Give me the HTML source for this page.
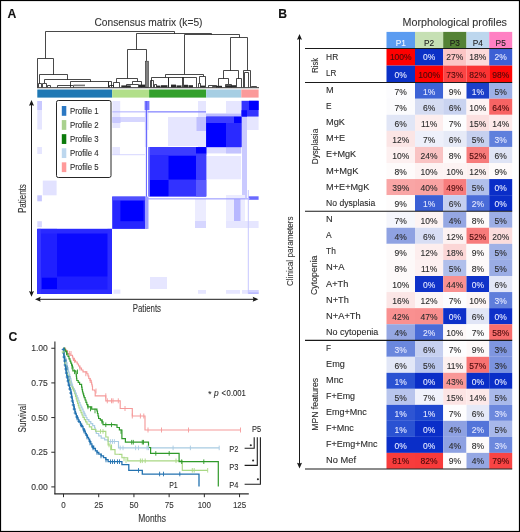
<!DOCTYPE html><html><head><meta charset="utf-8"><style>html,body{margin:0;padding:0;background:#fff;}body{width:520px;height:532px;overflow:hidden;}svg{display:block;font-family:"Liberation Sans", sans-serif;will-change:transform;}text{stroke:currentColor;stroke-width:0.1px;paint-order:stroke;}</style></head><body>
<svg width="520" height="532" viewBox="0 0 520 532">
<rect x="0" y="0" width="520" height="532" fill="#fff"/>
<text x="7.6" y="17.8" font-size="12.2" fill="#111" color="#111" font-weight="bold">A</text>
<text x="278.2" y="18" font-size="12.2" fill="#111" color="#111" font-weight="bold">B</text>
<text x="8.6" y="340.8" font-size="12.2" fill="#111" color="#111" font-weight="bold">C</text>
<text x="94.5" y="26.4" font-size="10.2" fill="#333" color="#333" textLength="108" lengthAdjust="spacingAndGlyphs">Consensus matrix (k=5)</text>
<path d="M45.5 58.2V31.5H174.5V33.7M136.5 49.3V33.5H211.5V34.5M184.5 74.2V34.5H239.5V37.4M230.5 70.6V37.5H247.5V70.4M37.5 87.4V58.5H53.5V74.7M39.5 83.5V74.5H67.5V79.6M44.5 83V79.5H90.5V81.9M70.5 87.4V81.5H108.5V87.4M57.5 87.4V85.5H73.5V87.4M38.5 87.4V83.5H41.5V87.4M42.5 87.4V83.5H46.5V87.4M47.5 87.4V85.5H50.5V87.4M109.5 87.4V85.5H113.5V87.4M127.5 78.4V49.5H146.5V60.9M116.5 82.5V78.5H137.5V81.4M113.5 87.4V82.5H119.5V87.4M132.5 83.9V81.5H141.5V87.4M126.5 87.4V84.5H138.5V87.4M108.5 87.4V81.5H111.5V87.4M165.5 77.3V74.5H203.5V76.2M151.5 87.4V77.5H168.5V87.4M168.5 87.4V77.5H196.5V87.4M182.5 87.4V77.5H183.5V87.4M199.5 83V76.5H205.5V87.4M198.5 87.4V83.5H200.5V87.4M150.5 87.4V80.5H153.5V87.4M154.5 87.4V84.5H156.5V87.4M223.5 78.6V70.5H238.5V78.6M218.5 87.4V78.5H228.5V84M236.5 87.4V78.5H241.5V87.4M225.5 87.4V84.5H231.5V87.4M208.5 87.4V85.5H216.5V87.4M212.5 87.4V86.5H221.5V87.4M243.5 87.4V70.5H250.5V87.4M244.5 87.4V72.5H248.5V87.4M251.5 87.4V86.5H256.5V87.4" fill="none" stroke="#1a1a1a" stroke-width="0.8" stroke-linejoin="miter"/>
<rect x="156.5" y="85.6" width="4" height="1.8" fill="#2a2a2a"/>
<rect x="161" y="85.2" width="6.5" height="2.2" fill="#2a2a2a"/>
<rect x="171" y="84.6" width="5" height="2.8" fill="#2a2a2a"/>
<rect x="176.5" y="85.4" width="5" height="2" fill="#2a2a2a"/>
<rect x="184" y="84.8" width="4" height="2.6" fill="#2a2a2a"/>
<rect x="188.5" y="85.2" width="4.5" height="2.2" fill="#2a2a2a"/>
<rect x="200.5" y="85.6" width="4.5" height="1.8" fill="#2a2a2a"/>
<rect x="216" y="85.8" width="6" height="1.6" fill="#2a2a2a"/>
<rect x="226" y="85.2" width="10" height="2.2" fill="#2a2a2a"/>
<rect x="145.3" y="61.2" width="3.1" height="26" fill="#808080" stroke="#333" stroke-width="0.6"/>
<rect x="121.3" y="85.4" width="9.5" height="2" fill="#2a2a2a"/>
<rect x="139.0" y="84.6" width="6" height="2.8" fill="#2a2a2a"/>
<rect x="73.5" y="84.6" width="11.5" height="1.6" fill="#777"/>
<rect x="37" y="87.2" width="222" height="1.0" fill="#333"/>
<rect x="37.3" y="89.5" width="74.9" height="8.1" fill="#1f78b4"/>
<rect x="112.2" y="89.5" width="36.9" height="8.1" fill="#b2df8a"/>
<rect x="149.1" y="89.5" width="57.1" height="8.1" fill="#33a02c"/>
<rect x="206.2" y="89.5" width="35.1" height="8.1" fill="#a6cee3"/>
<rect x="241.3" y="89.5" width="17.3" height="8.1" fill="#fb9a99"/>
<rect x="37.3" y="101" width="4.7" height="28.5" fill="#e6e6ff"/>
<rect x="37.3" y="101" width="4.7" height="9" fill="#c8c8ff"/>
<rect x="37.3" y="147" width="4.7" height="7" fill="#e6e6ff"/>
<rect x="42.8" y="180.6" width="13.8" height="14.7" fill="#e2e2ff"/>
<rect x="37.3" y="195.3" width="4.6" height="6" fill="#c8c8ff"/>
<rect x="37.3" y="221.2" width="4.6" height="6" fill="#d8d8ff"/>
<rect x="112.4" y="101" width="7.8" height="27" fill="#e6e6ff"/>
<rect x="112.4" y="117" width="32.6" height="5" fill="#d6d6ff"/>
<rect x="112.4" y="147" width="7.6" height="8" fill="#e6e6ff"/>
<rect x="144.6" y="101" width="4.8" height="9" fill="#7a7aff"/>
<rect x="144.8" y="110" width="3.7" height="20" fill="#d8d8ff"/>
<rect x="144.8" y="130" width="3.2" height="17" fill="#e6e6ff"/>
<rect x="112.4" y="117" width="8.2" height="6" fill="#c8c8ff"/>
<rect x="112.4" y="154.2" width="32.6" height="1" fill="#d6d6ff"/>
<rect x="168" y="117" width="37" height="29" fill="#e6e6ff"/>
<rect x="198" y="101" width="8" height="46" fill="#e6e6ff"/>
<rect x="226" y="101" width="15" height="12.5" fill="#e6e6ff"/>
<rect x="206" y="113.5" width="35.5" height="3.1" fill="#bcbcff"/>
<rect x="241.5" y="117" width="17.1" height="13" fill="#e6e6ff"/>
<rect x="242" y="116.6" width="5" height="81.4" fill="#cacaff"/>
<rect x="248.2" y="196.3" width="10.4" height="3.5" fill="#6a6aff"/>
<rect x="226" y="196.3" width="15" height="3.7" fill="#c0c0ff"/>
<rect x="206" y="147" width="35.5" height="6.4" fill="#dcdcff"/>
<rect x="226" y="147" width="15" height="6.4" fill="#c4c4ff"/>
<rect x="206" y="156" width="35" height="23.3" fill="#e8e8ff"/>
<rect x="195" y="199" width="11" height="29" fill="#ececff"/>
<rect x="195" y="221" width="11" height="7" fill="#d6d6ff"/>
<rect x="226" y="195" width="19" height="33" fill="#ececff"/>
<rect x="234" y="199" width="6.5" height="29" fill="#b8b8ff"/>
<rect x="226" y="221" width="32.6" height="7" fill="#e6e6ff"/>
<rect x="150" y="277" width="17" height="12" fill="#e6e6ff"/>
<rect x="113.5" y="289.5" width="6.9" height="4.3" fill="#e6e6ff"/>
<rect x="198" y="290" width="8" height="3.8" fill="#e6e6ff"/>
<rect x="226" y="290" width="14" height="3.8" fill="#e6e6ff"/>
<rect x="242" y="290" width="16.6" height="3.8" fill="#e6e6ff"/>
<rect x="248" y="290" width="10.6" height="3.8" fill="#d4d4ff"/>
<rect x="248" y="292.6" width="10.6" height="1" fill="#a8a8ff"/>
<rect x="112.4" y="111.3" width="35.6" height="1.1" fill="#b4b4ff"/>
<rect x="148" y="111.2" width="58" height="1.3" fill="#8888ff"/>
<rect x="196.5" y="117" width="9.5" height="14" fill="#c0c0ff"/>
<rect x="145.9" y="101" width="1" height="128" fill="#5e5eff"/>
<rect x="147" y="198.3" width="103" height="1.1" fill="#9a9aff"/>
<rect x="247.8" y="190" width="1" height="103.8" fill="#c8c8ff"/>
<rect x="241.5" y="100.8" width="17.1" height="15.8" fill="#3434ff"/>
<rect x="249" y="100.8" width="9.6" height="9.2" fill="#0000ff"/>
<rect x="241.5" y="110.2" width="5.5" height="6.4" fill="#0a0aff"/>
<rect x="206.2" y="116.6" width="35.3" height="30.5" fill="#2424ff"/>
<rect x="206.2" y="123" width="19.8" height="24.1" fill="#0000ff"/>
<rect x="206.2" y="116.6" width="27.8" height="6.4" fill="#3e3eff"/>
<rect x="234" y="116.6" width="7.5" height="6.4" fill="#0000ff"/>
<rect x="226" y="123" width="15.5" height="24.1" fill="#2a2aff"/>
<rect x="148.5" y="147.1" width="57.7" height="49.3" fill="#2a2aff"/>
<rect x="168.5" y="179.5" width="27.5" height="16.9" fill="#3232ff"/>
<rect x="168.5" y="156" width="27.5" height="23.5" fill="#0000ff"/>
<rect x="150" y="180" width="18.5" height="16.4" fill="#0000ff"/>
<rect x="150" y="147.1" width="56.2" height="7.9" fill="#3c3cff"/>
<rect x="196" y="147.1" width="10.2" height="49.3" fill="#3c3cff"/>
<rect x="148.5" y="147.1" width="1.5" height="49.3" fill="#6a6aff"/>
<rect x="196" y="147.1" width="10.2" height="6.4" fill="#0000ff"/>
<rect x="196" y="180" width="10.2" height="16.4" fill="#5a5aff"/>
<rect x="112.2" y="196.6" width="33.2" height="32.3" fill="#2626ff"/>
<rect x="120.4" y="200.4" width="23.1" height="20.8" fill="#0000ff"/>
<rect x="112.2" y="196.6" width="33.2" height="3.8" fill="#5050ff"/>
<rect x="145.4" y="196.6" width="3.1" height="32.3" fill="#a0a0ff"/>
<rect x="37.3" y="228.9" width="74.6" height="64.9" fill="#0a0aff"/>
<rect x="37.3" y="228.9" width="19.7" height="64.9" fill="#2020ff"/>
<rect x="57" y="276.5" width="54.9" height="12.7" fill="#1e1eff"/>
<rect x="41.9" y="277.7" width="15.1" height="11.5" fill="#0000ff"/>
<rect x="37.3" y="289.2" width="74.6" height="4.6" fill="#2c2cff"/>
<rect x="37.3" y="228.9" width="74.6" height="4.6" fill="#2a2aff"/>
<rect x="107.5" y="228.9" width="4.4" height="64.9" fill="#2c2cff"/>
<rect x="37.3" y="228.9" width="3.7" height="64.9" fill="#3535ff"/>
<rect x="56.5" y="100.5" width="54.5" height="77" rx="1.8" fill="#fff" stroke="#262626" stroke-width="1"/>
<rect x="61.8" y="106" width="4.5" height="9.8" fill="#2b78c3"/>
<text x="70" y="114.1" font-size="8.7" fill="#2a2a2a" color="#2a2a2a" textLength="28.7" lengthAdjust="spacingAndGlyphs">Profile 1</text>
<rect x="61.8" y="120.08" width="4.5" height="9.8" fill="#a9d18e"/>
<text x="70" y="128.18" font-size="8.7" fill="#2a2a2a" color="#2a2a2a" textLength="28.7" lengthAdjust="spacingAndGlyphs">Profile 2</text>
<rect x="61.8" y="134.16" width="4.5" height="9.8" fill="#0b7a0b"/>
<text x="70" y="142.26" font-size="8.7" fill="#2a2a2a" color="#2a2a2a" textLength="28.7" lengthAdjust="spacingAndGlyphs">Profile 3</text>
<rect x="61.8" y="148.24" width="4.5" height="9.8" fill="#bdd7ee"/>
<text x="70" y="156.34" font-size="8.7" fill="#2a2a2a" color="#2a2a2a" textLength="28.7" lengthAdjust="spacingAndGlyphs">Profile 4</text>
<rect x="61.8" y="162.32" width="4.5" height="9.8" fill="#ff9a9a"/>
<text x="70" y="170.42" font-size="8.7" fill="#2a2a2a" color="#2a2a2a" textLength="28.7" lengthAdjust="spacingAndGlyphs">Profile 5</text>
<line x1="31.5" y1="103" x2="31.5" y2="294" stroke="#1a1a1a" stroke-width="1"/>
<path d="M31.5 100 L34 105.7 L31.5 104.9 L29 105.7 Z" fill="#1a1a1a"/>
<path d="M31.5 296.8 L29 291.1 L31.5 291.9 L34 291.1 Z" fill="#1a1a1a"/>
<line x1="38" y1="299.3" x2="255" y2="299.3" stroke="#1a1a1a" stroke-width="1"/>
<path d="M35 299.3 L40.7 296.8 L39.9 299.3 L40.7 301.8 Z" fill="#1a1a1a"/>
<path d="M258.4 299.3 L252.7 301.8 L253.5 299.3 L252.7 296.8 Z" fill="#1a1a1a"/>
<text x="132.7" y="311.9" font-size="10" fill="#333" color="#333" textLength="28.3" lengthAdjust="spacingAndGlyphs">Patients</text>
<text x="26.3" y="213" font-size="10" fill="#333" color="#333" textLength="28.8" lengthAdjust="spacingAndGlyphs" transform="rotate(-90 26.3 213)">Patients</text>
<text x="402.5" y="26.2" font-size="10.3" fill="#333" color="#333" textLength="104.5" lengthAdjust="spacingAndGlyphs">Morphological profiles</text>
<rect x="386.5" y="31.9" width="28.5" height="16.6" fill="#5b9cf1"/>
<text x="400.75" y="46" font-size="8.3" fill="#f4f8ff" color="#f4f8ff" text-anchor="middle">P1</text>
<rect x="415" y="31.9" width="28.2" height="16.6" fill="#c6e0b4"/>
<text x="429.1" y="46" font-size="8.3" fill="#222" color="#222" text-anchor="middle">P2</text>
<rect x="443.2" y="31.9" width="23.3" height="16.6" fill="#548235"/>
<text x="454.85" y="46" font-size="8.3" fill="#1a1a1a" color="#1a1a1a" text-anchor="middle">P3</text>
<rect x="466.5" y="31.9" width="22.7" height="16.6" fill="#bdd7ee"/>
<text x="477.85" y="46" font-size="8.3" fill="#222" color="#222" text-anchor="middle">P4</text>
<rect x="489.2" y="31.9" width="23" height="16.6" fill="#ff80c3"/>
<text x="500.7" y="46" font-size="8.3" fill="#222" color="#222" text-anchor="middle">P5</text>
<rect x="386.5" y="49" width="28.5" height="16.6" fill="#ff0000"/>
<rect x="415" y="49" width="28.2" height="16.6" fill="#0b30c6"/>
<rect x="443.2" y="49" width="23.3" height="16.6" fill="#fbc5c5"/>
<rect x="466.5" y="49" width="22.7" height="16.6" fill="#fddada"/>
<rect x="489.2" y="49" width="23" height="16.6" fill="#3d60d4"/>
<rect x="386.5" y="65.6" width="28.5" height="16.6" fill="#0b30c6"/>
<rect x="415" y="65.6" width="28.2" height="16.6" fill="#ff0000"/>
<rect x="443.2" y="65.6" width="23.3" height="16.6" fill="#fa4545"/>
<rect x="466.5" y="65.6" width="22.7" height="16.6" fill="#fb3333"/>
<rect x="489.2" y="65.6" width="23" height="16.6" fill="#fe0808"/>
<rect x="386.5" y="82.7" width="28.5" height="16.06" fill="#fcfcfe"/>
<rect x="415" y="82.7" width="28.2" height="16.06" fill="#3d63d6"/>
<rect x="443.2" y="82.7" width="23.3" height="16.06" fill="#fefafa"/>
<rect x="466.5" y="82.7" width="22.7" height="16.06" fill="#1a3fc9"/>
<rect x="489.2" y="82.7" width="23" height="16.06" fill="#9eb0e6"/>
<rect x="386.5" y="98.76" width="28.5" height="16.06" fill="#fbfbfd"/>
<rect x="415" y="98.76" width="28.2" height="16.06" fill="#d5dcf2"/>
<rect x="443.2" y="98.76" width="23.3" height="16.06" fill="#c9d3f0"/>
<rect x="466.5" y="98.76" width="22.7" height="16.06" fill="#fef4f4"/>
<rect x="489.2" y="98.76" width="23" height="16.06" fill="#f86464"/>
<rect x="386.5" y="114.83" width="28.5" height="16.06" fill="#e1e6f6"/>
<rect x="415" y="114.83" width="28.2" height="16.06" fill="#fdeeee"/>
<rect x="443.2" y="114.83" width="23.3" height="16.06" fill="#fdfdfe"/>
<rect x="466.5" y="114.83" width="22.7" height="16.06" fill="#fbe0e0"/>
<rect x="489.2" y="114.83" width="23" height="16.06" fill="#fde9e9"/>
<rect x="386.5" y="130.89" width="28.5" height="16.06" fill="#fbe5e5"/>
<rect x="415" y="130.89" width="28.2" height="16.06" fill="#eef0fa"/>
<rect x="443.2" y="130.89" width="23.3" height="16.06" fill="#e6eaf7"/>
<rect x="466.5" y="130.89" width="22.7" height="16.06" fill="#c6d0ef"/>
<rect x="489.2" y="130.89" width="23" height="16.06" fill="#5f7fdc"/>
<rect x="386.5" y="146.95" width="28.5" height="16.06" fill="#fdf0f0"/>
<rect x="415" y="146.95" width="28.2" height="16.06" fill="#f9c3c3"/>
<rect x="443.2" y="146.95" width="23.3" height="16.06" fill="#fefafa"/>
<rect x="466.5" y="146.95" width="22.7" height="16.06" fill="#f77b7b"/>
<rect x="489.2" y="146.95" width="23" height="16.06" fill="#dfe4f5"/>
<rect x="386.5" y="163.01" width="28.5" height="16.06" fill="#fefbfb"/>
<rect x="415" y="163.01" width="28.2" height="16.06" fill="#fdf3f3"/>
<rect x="443.2" y="163.01" width="23.3" height="16.06" fill="#fdf3f3"/>
<rect x="466.5" y="163.01" width="22.7" height="16.06" fill="#fdf0f0"/>
<rect x="489.2" y="163.01" width="23" height="16.06" fill="#fefafa"/>
<rect x="386.5" y="179.07" width="28.5" height="16.06" fill="#f9a5a5"/>
<rect x="415" y="179.07" width="28.2" height="16.06" fill="#f9a2a2"/>
<rect x="443.2" y="179.07" width="23.3" height="16.06" fill="#f77c7c"/>
<rect x="466.5" y="179.07" width="22.7" height="16.06" fill="#b0bfeb"/>
<rect x="489.2" y="179.07" width="23" height="16.06" fill="#0a2ec8"/>
<rect x="386.5" y="195.14" width="28.5" height="16.06" fill="#fefcfc"/>
<rect x="415" y="195.14" width="28.2" height="16.06" fill="#3b5fd5"/>
<rect x="443.2" y="195.14" width="23.3" height="16.06" fill="#c5cff0"/>
<rect x="466.5" y="195.14" width="22.7" height="16.06" fill="#4a6cd8"/>
<rect x="489.2" y="195.14" width="23" height="16.06" fill="#0a2ec8"/>
<rect x="386.5" y="211.7" width="28.5" height="16.07" fill="#f5f6fc"/>
<rect x="415" y="211.7" width="28.2" height="16.07" fill="#fdf3f3"/>
<rect x="443.2" y="211.7" width="23.3" height="16.07" fill="#95a7e3"/>
<rect x="466.5" y="211.7" width="22.7" height="16.07" fill="#fdfafa"/>
<rect x="489.2" y="211.7" width="23" height="16.07" fill="#9daee5"/>
<rect x="386.5" y="227.77" width="28.5" height="16.08" fill="#8fa2e2"/>
<rect x="415" y="227.77" width="28.2" height="16.08" fill="#d8def4"/>
<rect x="443.2" y="227.77" width="23.3" height="16.08" fill="#fdf2f2"/>
<rect x="466.5" y="227.77" width="22.7" height="16.08" fill="#f77b7b"/>
<rect x="489.2" y="227.77" width="23" height="16.08" fill="#fbdcdc"/>
<rect x="386.5" y="243.85" width="28.5" height="16.08" fill="#fdfafa"/>
<rect x="415" y="243.85" width="28.2" height="16.08" fill="#fdeeee"/>
<rect x="443.2" y="243.85" width="23.3" height="16.08" fill="#fbd6d6"/>
<rect x="466.5" y="243.85" width="22.7" height="16.08" fill="#fdfafa"/>
<rect x="489.2" y="243.85" width="23" height="16.08" fill="#a0b1e6"/>
<rect x="386.5" y="259.93" width="28.5" height="16.07" fill="#fdf9f9"/>
<rect x="415" y="259.93" width="28.2" height="16.07" fill="#fdf1f1"/>
<rect x="443.2" y="259.93" width="23.3" height="16.07" fill="#b0bfeb"/>
<rect x="466.5" y="259.93" width="22.7" height="16.07" fill="#fdf9f9"/>
<rect x="489.2" y="259.93" width="23" height="16.07" fill="#9aace5"/>
<rect x="386.5" y="276" width="28.5" height="16.07" fill="#fdf9f9"/>
<rect x="415" y="276" width="28.2" height="16.07" fill="#0f32c9"/>
<rect x="443.2" y="276" width="23.3" height="16.07" fill="#f89191"/>
<rect x="466.5" y="276" width="22.7" height="16.07" fill="#0f32c9"/>
<rect x="489.2" y="276" width="23" height="16.07" fill="#e3e7f7"/>
<rect x="386.5" y="292.07" width="28.5" height="16.07" fill="#fbe6e6"/>
<rect x="415" y="292.07" width="28.2" height="16.07" fill="#fdf6f6"/>
<rect x="443.2" y="292.07" width="23.3" height="16.07" fill="#fcfcfe"/>
<rect x="466.5" y="292.07" width="22.7" height="16.07" fill="#fdf6f6"/>
<rect x="489.2" y="292.07" width="23" height="16.07" fill="#5f7edb"/>
<rect x="386.5" y="308.15" width="28.5" height="16.08" fill="#f99090"/>
<rect x="415" y="308.15" width="28.2" height="16.08" fill="#f88e8e"/>
<rect x="443.2" y="308.15" width="23.3" height="16.08" fill="#0d30c9"/>
<rect x="466.5" y="308.15" width="22.7" height="16.08" fill="#e0e5f6"/>
<rect x="489.2" y="308.15" width="23" height="16.08" fill="#0d30c9"/>
<rect x="386.5" y="324.23" width="28.5" height="16.07" fill="#95a7e3"/>
<rect x="415" y="324.23" width="28.2" height="16.07" fill="#4a6bd7"/>
<rect x="443.2" y="324.23" width="23.3" height="16.07" fill="#fdf8f8"/>
<rect x="466.5" y="324.23" width="22.7" height="16.07" fill="#fcfcfd"/>
<rect x="489.2" y="324.23" width="23" height="16.07" fill="#f76d6d"/>
<rect x="386.5" y="340.8" width="28.5" height="16.01" fill="#6a87dd"/>
<rect x="415" y="340.8" width="28.2" height="16.01" fill="#c6d0f0"/>
<rect x="443.2" y="340.8" width="23.3" height="16.01" fill="#fdfdfe"/>
<rect x="466.5" y="340.8" width="22.7" height="16.01" fill="#fdf8f8"/>
<rect x="489.2" y="340.8" width="23" height="16.01" fill="#7f96e0"/>
<rect x="386.5" y="356.81" width="28.5" height="16.01" fill="#e2e7f7"/>
<rect x="415" y="356.81" width="28.2" height="16.01" fill="#b8c5ed"/>
<rect x="443.2" y="356.81" width="23.3" height="16.01" fill="#fdf0f0"/>
<rect x="466.5" y="356.81" width="22.7" height="16.01" fill="#f77272"/>
<rect x="489.2" y="356.81" width="23" height="16.01" fill="#7b93df"/>
<rect x="386.5" y="372.82" width="28.5" height="16.01" fill="#2a52d2"/>
<rect x="415" y="372.82" width="28.2" height="16.01" fill="#0a2ec8"/>
<rect x="443.2" y="372.82" width="23.3" height="16.01" fill="#f99898"/>
<rect x="466.5" y="372.82" width="22.7" height="16.01" fill="#0a2ec8"/>
<rect x="489.2" y="372.82" width="23" height="16.01" fill="#0a2ec8"/>
<rect x="386.5" y="388.84" width="28.5" height="16.01" fill="#b8c5ed"/>
<rect x="415" y="388.84" width="28.2" height="16.01" fill="#f0f2fb"/>
<rect x="443.2" y="388.84" width="23.3" height="16.01" fill="#fce4e4"/>
<rect x="466.5" y="388.84" width="22.7" height="16.01" fill="#fde9e9"/>
<rect x="489.2" y="388.84" width="23" height="16.01" fill="#a9b9ea"/>
<rect x="386.5" y="404.85" width="28.5" height="16.01" fill="#2e55d3"/>
<rect x="415" y="404.85" width="28.2" height="16.01" fill="#1e48d0"/>
<rect x="443.2" y="404.85" width="23.3" height="16.01" fill="#fdfdfe"/>
<rect x="466.5" y="404.85" width="22.7" height="16.01" fill="#e5e9f7"/>
<rect x="489.2" y="404.85" width="23" height="16.01" fill="#6c88dd"/>
<rect x="386.5" y="420.86" width="28.5" height="16.01" fill="#2a52d2"/>
<rect x="415" y="420.86" width="28.2" height="16.01" fill="#0a2ec8"/>
<rect x="443.2" y="420.86" width="23.3" height="16.01" fill="#8ea1e2"/>
<rect x="466.5" y="420.86" width="22.7" height="16.01" fill="#5374d9"/>
<rect x="489.2" y="420.86" width="23" height="16.01" fill="#a8b8ea"/>
<rect x="386.5" y="436.88" width="28.5" height="16.01" fill="#0a2ec8"/>
<rect x="415" y="436.88" width="28.2" height="16.01" fill="#0a2ec8"/>
<rect x="443.2" y="436.88" width="23.3" height="16.01" fill="#8ea1e2"/>
<rect x="466.5" y="436.88" width="22.7" height="16.01" fill="#fdfbfb"/>
<rect x="489.2" y="436.88" width="23" height="16.01" fill="#6c88dd"/>
<rect x="386.5" y="452.89" width="28.5" height="16.01" fill="#f83c3c"/>
<rect x="415" y="452.89" width="28.2" height="16.01" fill="#f83a3a"/>
<rect x="443.2" y="452.89" width="23.3" height="16.01" fill="#fefcfc"/>
<rect x="466.5" y="452.89" width="22.7" height="16.01" fill="#95a7e3"/>
<rect x="489.2" y="452.89" width="23" height="16.01" fill="#f84444"/>
<text x="326.1" y="59.8" font-size="8.5" fill="#2a2a2a" color="#2a2a2a" textLength="12.1" lengthAdjust="spacingAndGlyphs">HR</text>
<text x="400.75" y="59.8" font-size="8.5" fill="#4a0a0a" color="#4a0a0a" text-anchor="middle">100%</text>
<text x="429.1" y="59.8" font-size="8.5" fill="#e4e8ff" color="#e4e8ff" text-anchor="middle">0%</text>
<text x="454.85" y="59.8" font-size="8.5" fill="#2a2a2a" color="#2a2a2a" text-anchor="middle">27%</text>
<text x="477.85" y="59.8" font-size="8.5" fill="#2a2a2a" color="#2a2a2a" text-anchor="middle">18%</text>
<text x="500.7" y="59.8" font-size="8.5" fill="#e4e8ff" color="#e4e8ff" text-anchor="middle">2%</text>
<text x="326.1" y="76.4" font-size="8.5" fill="#2a2a2a" color="#2a2a2a" textLength="10.33" lengthAdjust="spacingAndGlyphs">LR</text>
<text x="400.75" y="78.3" font-size="8.5" fill="#e4e8ff" color="#e4e8ff" text-anchor="middle">0%</text>
<text x="429.1" y="78.3" font-size="8.5" fill="#4a0a0a" color="#4a0a0a" text-anchor="middle">100%</text>
<text x="454.85" y="78.3" font-size="8.5" fill="#4a0a0a" color="#4a0a0a" text-anchor="middle">73%</text>
<text x="477.85" y="78.3" font-size="8.5" fill="#4a0a0a" color="#4a0a0a" text-anchor="middle">82%</text>
<text x="500.7" y="78.3" font-size="8.5" fill="#4a0a0a" color="#4a0a0a" text-anchor="middle">98%</text>
<text x="326.1" y="93.23" font-size="8.5" fill="#2a2a2a" color="#2a2a2a" textLength="7.65" lengthAdjust="spacingAndGlyphs">M</text>
<text x="400.75" y="94.73" font-size="8.5" fill="#2a2a2a" color="#2a2a2a" text-anchor="middle">7%</text>
<text x="429.1" y="94.73" font-size="8.5" fill="#e4e8ff" color="#e4e8ff" text-anchor="middle">1%</text>
<text x="454.85" y="94.73" font-size="8.5" fill="#2a2a2a" color="#2a2a2a" text-anchor="middle">9%</text>
<text x="477.85" y="94.73" font-size="8.5" fill="#e4e8ff" color="#e4e8ff" text-anchor="middle">1%</text>
<text x="500.7" y="94.73" font-size="8.5" fill="#2a2a2a" color="#2a2a2a" text-anchor="middle">5%</text>
<text x="326.1" y="109.29" font-size="8.5" fill="#2a2a2a" color="#2a2a2a" textLength="5.56" lengthAdjust="spacingAndGlyphs">E</text>
<text x="400.75" y="110.79" font-size="8.5" fill="#2a2a2a" color="#2a2a2a" text-anchor="middle">7%</text>
<text x="429.1" y="110.79" font-size="8.5" fill="#2a2a2a" color="#2a2a2a" text-anchor="middle">6%</text>
<text x="454.85" y="110.79" font-size="8.5" fill="#2a2a2a" color="#2a2a2a" text-anchor="middle">6%</text>
<text x="477.85" y="110.79" font-size="8.5" fill="#2a2a2a" color="#2a2a2a" text-anchor="middle">10%</text>
<text x="500.7" y="110.79" font-size="8.5" fill="#4a0a0a" color="#4a0a0a" text-anchor="middle">64%</text>
<text x="326.1" y="125.36" font-size="8.5" fill="#2a2a2a" color="#2a2a2a" textLength="18.88" lengthAdjust="spacingAndGlyphs">MgK</text>
<text x="400.75" y="126.86" font-size="8.5" fill="#2a2a2a" color="#2a2a2a" text-anchor="middle">6%</text>
<text x="429.1" y="126.86" font-size="8.5" fill="#2a2a2a" color="#2a2a2a" text-anchor="middle">11%</text>
<text x="454.85" y="126.86" font-size="8.5" fill="#2a2a2a" color="#2a2a2a" text-anchor="middle">7%</text>
<text x="477.85" y="126.86" font-size="8.5" fill="#2a2a2a" color="#2a2a2a" text-anchor="middle">15%</text>
<text x="500.7" y="126.86" font-size="8.5" fill="#2a2a2a" color="#2a2a2a" text-anchor="middle">14%</text>
<text x="326.1" y="141.42" font-size="8.5" fill="#2a2a2a" color="#2a2a2a" textLength="19.16" lengthAdjust="spacingAndGlyphs">M+E</text>
<text x="400.75" y="142.92" font-size="8.5" fill="#2a2a2a" color="#2a2a2a" text-anchor="middle">12%</text>
<text x="429.1" y="142.92" font-size="8.5" fill="#2a2a2a" color="#2a2a2a" text-anchor="middle">7%</text>
<text x="454.85" y="142.92" font-size="8.5" fill="#2a2a2a" color="#2a2a2a" text-anchor="middle">6%</text>
<text x="477.85" y="142.92" font-size="8.5" fill="#2a2a2a" color="#2a2a2a" text-anchor="middle">5%</text>
<text x="500.7" y="142.92" font-size="8.5" fill="#e4e8ff" color="#e4e8ff" text-anchor="middle">3%</text>
<text x="326.1" y="157.48" font-size="8.5" fill="#2a2a2a" color="#2a2a2a" textLength="30.08" lengthAdjust="spacingAndGlyphs">E+MgK</text>
<text x="400.75" y="158.98" font-size="8.5" fill="#2a2a2a" color="#2a2a2a" text-anchor="middle">10%</text>
<text x="429.1" y="158.98" font-size="8.5" fill="#2a2a2a" color="#2a2a2a" text-anchor="middle">24%</text>
<text x="454.85" y="158.98" font-size="8.5" fill="#2a2a2a" color="#2a2a2a" text-anchor="middle">8%</text>
<text x="477.85" y="158.98" font-size="8.5" fill="#4a0a0a" color="#4a0a0a" text-anchor="middle">52%</text>
<text x="500.7" y="158.98" font-size="8.5" fill="#2a2a2a" color="#2a2a2a" text-anchor="middle">6%</text>
<text x="326.1" y="173.54" font-size="8.5" fill="#2a2a2a" color="#2a2a2a" textLength="32.38" lengthAdjust="spacingAndGlyphs">M+MgK</text>
<text x="400.75" y="175.04" font-size="8.5" fill="#2a2a2a" color="#2a2a2a" text-anchor="middle">8%</text>
<text x="429.1" y="175.04" font-size="8.5" fill="#2a2a2a" color="#2a2a2a" text-anchor="middle">10%</text>
<text x="454.85" y="175.04" font-size="8.5" fill="#2a2a2a" color="#2a2a2a" text-anchor="middle">10%</text>
<text x="477.85" y="175.04" font-size="8.5" fill="#2a2a2a" color="#2a2a2a" text-anchor="middle">12%</text>
<text x="500.7" y="175.04" font-size="8.5" fill="#2a2a2a" color="#2a2a2a" text-anchor="middle">9%</text>
<text x="326.1" y="189.61" font-size="8.5" fill="#2a2a2a" color="#2a2a2a" textLength="43.17" lengthAdjust="spacingAndGlyphs">M+E+MgK</text>
<text x="400.75" y="191.11" font-size="8.5" fill="#2a2a2a" color="#2a2a2a" text-anchor="middle">39%</text>
<text x="429.1" y="191.11" font-size="8.5" fill="#2a2a2a" color="#2a2a2a" text-anchor="middle">40%</text>
<text x="454.85" y="191.11" font-size="8.5" fill="#4a0a0a" color="#4a0a0a" text-anchor="middle">49%</text>
<text x="477.85" y="191.11" font-size="8.5" fill="#2a2a2a" color="#2a2a2a" text-anchor="middle">5%</text>
<text x="500.7" y="191.11" font-size="8.5" fill="#e4e8ff" color="#e4e8ff" text-anchor="middle">0%</text>
<text x="326.1" y="205.67" font-size="8.5" fill="#2a2a2a" color="#2a2a2a" textLength="49.2" lengthAdjust="spacingAndGlyphs">No dysplasia</text>
<text x="400.75" y="207.17" font-size="8.5" fill="#2a2a2a" color="#2a2a2a" text-anchor="middle">9%</text>
<text x="429.1" y="207.17" font-size="8.5" fill="#e4e8ff" color="#e4e8ff" text-anchor="middle">1%</text>
<text x="454.85" y="207.17" font-size="8.5" fill="#2a2a2a" color="#2a2a2a" text-anchor="middle">6%</text>
<text x="477.85" y="207.17" font-size="8.5" fill="#e4e8ff" color="#e4e8ff" text-anchor="middle">2%</text>
<text x="500.7" y="207.17" font-size="8.5" fill="#e4e8ff" color="#e4e8ff" text-anchor="middle">0%</text>
<text x="326.1" y="222.24" font-size="8.5" fill="#2a2a2a" color="#2a2a2a" textLength="6.63" lengthAdjust="spacingAndGlyphs">N</text>
<text x="400.75" y="223.74" font-size="8.5" fill="#2a2a2a" color="#2a2a2a" text-anchor="middle">7%</text>
<text x="429.1" y="223.74" font-size="8.5" fill="#2a2a2a" color="#2a2a2a" text-anchor="middle">10%</text>
<text x="454.85" y="223.74" font-size="8.5" fill="#2a2a2a" color="#2a2a2a" text-anchor="middle">4%</text>
<text x="477.85" y="223.74" font-size="8.5" fill="#2a2a2a" color="#2a2a2a" text-anchor="middle">8%</text>
<text x="500.7" y="223.74" font-size="8.5" fill="#2a2a2a" color="#2a2a2a" text-anchor="middle">5%</text>
<text x="326.1" y="238.31" font-size="8.5" fill="#2a2a2a" color="#2a2a2a" textLength="5.65" lengthAdjust="spacingAndGlyphs">A</text>
<text x="400.75" y="239.81" font-size="8.5" fill="#2a2a2a" color="#2a2a2a" text-anchor="middle">4%</text>
<text x="429.1" y="239.81" font-size="8.5" fill="#2a2a2a" color="#2a2a2a" text-anchor="middle">6%</text>
<text x="454.85" y="239.81" font-size="8.5" fill="#2a2a2a" color="#2a2a2a" text-anchor="middle">12%</text>
<text x="477.85" y="239.81" font-size="8.5" fill="#4a0a0a" color="#4a0a0a" text-anchor="middle">52%</text>
<text x="500.7" y="239.81" font-size="8.5" fill="#2a2a2a" color="#2a2a2a" text-anchor="middle">20%</text>
<text x="326.1" y="254.39" font-size="8.5" fill="#2a2a2a" color="#2a2a2a" textLength="9.73" lengthAdjust="spacingAndGlyphs">Th</text>
<text x="400.75" y="255.89" font-size="8.5" fill="#2a2a2a" color="#2a2a2a" text-anchor="middle">9%</text>
<text x="429.1" y="255.89" font-size="8.5" fill="#2a2a2a" color="#2a2a2a" text-anchor="middle">12%</text>
<text x="454.85" y="255.89" font-size="8.5" fill="#2a2a2a" color="#2a2a2a" text-anchor="middle">18%</text>
<text x="477.85" y="255.89" font-size="8.5" fill="#2a2a2a" color="#2a2a2a" text-anchor="middle">9%</text>
<text x="500.7" y="255.89" font-size="8.5" fill="#2a2a2a" color="#2a2a2a" text-anchor="middle">5%</text>
<text x="326.1" y="270.46" font-size="8.5" fill="#2a2a2a" color="#2a2a2a" textLength="18.45" lengthAdjust="spacingAndGlyphs">N+A</text>
<text x="400.75" y="271.96" font-size="8.5" fill="#2a2a2a" color="#2a2a2a" text-anchor="middle">8%</text>
<text x="429.1" y="271.96" font-size="8.5" fill="#2a2a2a" color="#2a2a2a" text-anchor="middle">11%</text>
<text x="454.85" y="271.96" font-size="8.5" fill="#2a2a2a" color="#2a2a2a" text-anchor="middle">5%</text>
<text x="477.85" y="271.96" font-size="8.5" fill="#2a2a2a" color="#2a2a2a" text-anchor="middle">8%</text>
<text x="500.7" y="271.96" font-size="8.5" fill="#2a2a2a" color="#2a2a2a" text-anchor="middle">5%</text>
<text x="326.1" y="286.54" font-size="8.5" fill="#2a2a2a" color="#2a2a2a" textLength="22.21" lengthAdjust="spacingAndGlyphs">A+Th</text>
<text x="400.75" y="288.04" font-size="8.5" fill="#2a2a2a" color="#2a2a2a" text-anchor="middle">10%</text>
<text x="429.1" y="288.04" font-size="8.5" fill="#e4e8ff" color="#e4e8ff" text-anchor="middle">0%</text>
<text x="454.85" y="288.04" font-size="8.5" fill="#2a2a2a" color="#2a2a2a" text-anchor="middle">44%</text>
<text x="477.85" y="288.04" font-size="8.5" fill="#e4e8ff" color="#e4e8ff" text-anchor="middle">0%</text>
<text x="500.7" y="288.04" font-size="8.5" fill="#2a2a2a" color="#2a2a2a" text-anchor="middle">6%</text>
<text x="326.1" y="302.61" font-size="8.5" fill="#2a2a2a" color="#2a2a2a" textLength="22.76" lengthAdjust="spacingAndGlyphs">N+Th</text>
<text x="400.75" y="304.11" font-size="8.5" fill="#2a2a2a" color="#2a2a2a" text-anchor="middle">16%</text>
<text x="429.1" y="304.11" font-size="8.5" fill="#2a2a2a" color="#2a2a2a" text-anchor="middle">12%</text>
<text x="454.85" y="304.11" font-size="8.5" fill="#2a2a2a" color="#2a2a2a" text-anchor="middle">7%</text>
<text x="477.85" y="304.11" font-size="8.5" fill="#2a2a2a" color="#2a2a2a" text-anchor="middle">10%</text>
<text x="500.7" y="304.11" font-size="8.5" fill="#e4e8ff" color="#e4e8ff" text-anchor="middle">3%</text>
<text x="326.1" y="318.69" font-size="8.5" fill="#2a2a2a" color="#2a2a2a" textLength="34.57" lengthAdjust="spacingAndGlyphs">N+A+Th</text>
<text x="400.75" y="320.19" font-size="8.5" fill="#2a2a2a" color="#2a2a2a" text-anchor="middle">42%</text>
<text x="429.1" y="320.19" font-size="8.5" fill="#2a2a2a" color="#2a2a2a" text-anchor="middle">47%</text>
<text x="454.85" y="320.19" font-size="8.5" fill="#e4e8ff" color="#e4e8ff" text-anchor="middle">0%</text>
<text x="477.85" y="320.19" font-size="8.5" fill="#2a2a2a" color="#2a2a2a" text-anchor="middle">6%</text>
<text x="500.7" y="320.19" font-size="8.5" fill="#e4e8ff" color="#e4e8ff" text-anchor="middle">0%</text>
<text x="326.1" y="334.76" font-size="8.5" fill="#2a2a2a" color="#2a2a2a" textLength="52.24" lengthAdjust="spacingAndGlyphs">No cytopenia</text>
<text x="400.75" y="336.26" font-size="8.5" fill="#2a2a2a" color="#2a2a2a" text-anchor="middle">4%</text>
<text x="429.1" y="336.26" font-size="8.5" fill="#e4e8ff" color="#e4e8ff" text-anchor="middle">2%</text>
<text x="454.85" y="336.26" font-size="8.5" fill="#2a2a2a" color="#2a2a2a" text-anchor="middle">10%</text>
<text x="477.85" y="336.26" font-size="8.5" fill="#2a2a2a" color="#2a2a2a" text-anchor="middle">7%</text>
<text x="500.7" y="336.26" font-size="8.5" fill="#4a0a0a" color="#4a0a0a" text-anchor="middle">58%</text>
<text x="326.1" y="351.31" font-size="8.5" fill="#2a2a2a" color="#2a2a2a" textLength="5.01" lengthAdjust="spacingAndGlyphs">F</text>
<text x="400.75" y="352.81" font-size="8.5" fill="#e4e8ff" color="#e4e8ff" text-anchor="middle">3%</text>
<text x="429.1" y="352.81" font-size="8.5" fill="#2a2a2a" color="#2a2a2a" text-anchor="middle">6%</text>
<text x="454.85" y="352.81" font-size="8.5" fill="#2a2a2a" color="#2a2a2a" text-anchor="middle">7%</text>
<text x="477.85" y="352.81" font-size="8.5" fill="#2a2a2a" color="#2a2a2a" text-anchor="middle">9%</text>
<text x="500.7" y="352.81" font-size="8.5" fill="#2a2a2a" color="#2a2a2a" text-anchor="middle">3%</text>
<text x="326.1" y="367.32" font-size="8.5" fill="#2a2a2a" color="#2a2a2a" textLength="18.76" lengthAdjust="spacingAndGlyphs">Emg</text>
<text x="400.75" y="368.82" font-size="8.5" fill="#2a2a2a" color="#2a2a2a" text-anchor="middle">6%</text>
<text x="429.1" y="368.82" font-size="8.5" fill="#2a2a2a" color="#2a2a2a" text-anchor="middle">5%</text>
<text x="454.85" y="368.82" font-size="8.5" fill="#2a2a2a" color="#2a2a2a" text-anchor="middle">11%</text>
<text x="477.85" y="368.82" font-size="8.5" fill="#4a0a0a" color="#4a0a0a" text-anchor="middle">57%</text>
<text x="500.7" y="368.82" font-size="8.5" fill="#2a2a2a" color="#2a2a2a" text-anchor="middle">3%</text>
<text x="326.1" y="383.33" font-size="8.5" fill="#2a2a2a" color="#2a2a2a" textLength="17.2" lengthAdjust="spacingAndGlyphs">Mnc</text>
<text x="400.75" y="384.83" font-size="8.5" fill="#e4e8ff" color="#e4e8ff" text-anchor="middle">1%</text>
<text x="429.1" y="384.83" font-size="8.5" fill="#e4e8ff" color="#e4e8ff" text-anchor="middle">0%</text>
<text x="454.85" y="384.83" font-size="8.5" fill="#2a2a2a" color="#2a2a2a" text-anchor="middle">43%</text>
<text x="477.85" y="384.83" font-size="8.5" fill="#e4e8ff" color="#e4e8ff" text-anchor="middle">0%</text>
<text x="500.7" y="384.83" font-size="8.5" fill="#e4e8ff" color="#e4e8ff" text-anchor="middle">0%</text>
<text x="326.1" y="399.34" font-size="8.5" fill="#2a2a2a" color="#2a2a2a" textLength="28.9" lengthAdjust="spacingAndGlyphs">F+Emg</text>
<text x="400.75" y="400.84" font-size="8.5" fill="#2a2a2a" color="#2a2a2a" text-anchor="middle">5%</text>
<text x="429.1" y="400.84" font-size="8.5" fill="#2a2a2a" color="#2a2a2a" text-anchor="middle">7%</text>
<text x="454.85" y="400.84" font-size="8.5" fill="#2a2a2a" color="#2a2a2a" text-anchor="middle">15%</text>
<text x="477.85" y="400.84" font-size="8.5" fill="#2a2a2a" color="#2a2a2a" text-anchor="middle">14%</text>
<text x="500.7" y="400.84" font-size="8.5" fill="#2a2a2a" color="#2a2a2a" text-anchor="middle">5%</text>
<text x="326.1" y="415.36" font-size="8.5" fill="#2a2a2a" color="#2a2a2a" textLength="40.58" lengthAdjust="spacingAndGlyphs">Emg+Mnc</text>
<text x="400.75" y="416.86" font-size="8.5" fill="#e4e8ff" color="#e4e8ff" text-anchor="middle">1%</text>
<text x="429.1" y="416.86" font-size="8.5" fill="#e4e8ff" color="#e4e8ff" text-anchor="middle">1%</text>
<text x="454.85" y="416.86" font-size="8.5" fill="#2a2a2a" color="#2a2a2a" text-anchor="middle">7%</text>
<text x="477.85" y="416.86" font-size="8.5" fill="#2a2a2a" color="#2a2a2a" text-anchor="middle">6%</text>
<text x="500.7" y="416.86" font-size="8.5" fill="#e4e8ff" color="#e4e8ff" text-anchor="middle">3%</text>
<text x="326.1" y="431.37" font-size="8.5" fill="#2a2a2a" color="#2a2a2a" textLength="27.78" lengthAdjust="spacingAndGlyphs">F+Mnc</text>
<text x="400.75" y="432.87" font-size="8.5" fill="#e4e8ff" color="#e4e8ff" text-anchor="middle">1%</text>
<text x="429.1" y="432.87" font-size="8.5" fill="#e4e8ff" color="#e4e8ff" text-anchor="middle">0%</text>
<text x="454.85" y="432.87" font-size="8.5" fill="#2a2a2a" color="#2a2a2a" text-anchor="middle">4%</text>
<text x="477.85" y="432.87" font-size="8.5" fill="#e4e8ff" color="#e4e8ff" text-anchor="middle">2%</text>
<text x="500.7" y="432.87" font-size="8.5" fill="#2a2a2a" color="#2a2a2a" text-anchor="middle">5%</text>
<text x="326.1" y="447.38" font-size="8.5" fill="#2a2a2a" color="#2a2a2a" textLength="51.38" lengthAdjust="spacingAndGlyphs">F+Emg+Mnc</text>
<text x="400.75" y="448.88" font-size="8.5" fill="#e4e8ff" color="#e4e8ff" text-anchor="middle">0%</text>
<text x="429.1" y="448.88" font-size="8.5" fill="#e4e8ff" color="#e4e8ff" text-anchor="middle">0%</text>
<text x="454.85" y="448.88" font-size="8.5" fill="#2a2a2a" color="#2a2a2a" text-anchor="middle">4%</text>
<text x="477.85" y="448.88" font-size="8.5" fill="#2a2a2a" color="#2a2a2a" text-anchor="middle">8%</text>
<text x="500.7" y="448.88" font-size="8.5" fill="#e4e8ff" color="#e4e8ff" text-anchor="middle">3%</text>
<text x="326.1" y="463.39" font-size="8.5" fill="#2a2a2a" color="#2a2a2a" textLength="29.87" lengthAdjust="spacingAndGlyphs">No Mef</text>
<text x="400.75" y="464.29" font-size="8.5" fill="#4a0a0a" color="#4a0a0a" text-anchor="middle">81%</text>
<text x="429.1" y="464.29" font-size="8.5" fill="#4a0a0a" color="#4a0a0a" text-anchor="middle">82%</text>
<text x="454.85" y="464.29" font-size="8.5" fill="#2a2a2a" color="#2a2a2a" text-anchor="middle">9%</text>
<text x="477.85" y="464.29" font-size="8.5" fill="#2a2a2a" color="#2a2a2a" text-anchor="middle">4%</text>
<text x="500.7" y="464.29" font-size="8.5" fill="#4a0a0a" color="#4a0a0a" text-anchor="middle">79%</text>
<line x1="305" y1="48.5" x2="512.2" y2="48.5" stroke="#1a1a1a" stroke-width="1.1"/>
<line x1="305" y1="82.5" x2="512.2" y2="82.5" stroke="#1a1a1a" stroke-width="1.1"/>
<line x1="305" y1="211.2" x2="512.2" y2="211.2" stroke="#1a1a1a" stroke-width="1.1"/>
<line x1="305" y1="340.4" x2="512.2" y2="340.4" stroke="#1a1a1a" stroke-width="1.1"/>
<line x1="305" y1="469" x2="512.2" y2="469" stroke="#1a1a1a" stroke-width="1.1"/>
<text x="318" y="72.7" font-size="8.2" fill="#2a2a2a" color="#2a2a2a" textLength="14.7" lengthAdjust="spacingAndGlyphs" transform="rotate(-90 318 72.7)">Risk</text>
<text x="317.6" y="164.2" font-size="8.2" fill="#2a2a2a" color="#2a2a2a" textLength="35.4" lengthAdjust="spacingAndGlyphs" transform="rotate(-90 317.6 164.2)">Dysplasia</text>
<text x="317.4" y="295" font-size="8.2" fill="#2a2a2a" color="#2a2a2a" textLength="39.5" lengthAdjust="spacingAndGlyphs" transform="rotate(-90 317.4 295)">Cytopenia</text>
<text x="317.6" y="430.8" font-size="8.2" fill="#2a2a2a" color="#2a2a2a" textLength="52.9" lengthAdjust="spacingAndGlyphs" transform="rotate(-90 317.6 430.8)">MPN features</text>
<text x="293.2" y="286" font-size="8.6" fill="#333" color="#333" textLength="69.5" lengthAdjust="spacingAndGlyphs" transform="rotate(-90 293.2 286)">Clinical parameters</text>
<line x1="299.5" y1="38" x2="299.5" y2="464.5" stroke="#1a1a1a" stroke-width="1"/>
<path d="M299.5 34 L302 39.7 L299.5 38.9 L297 39.7 Z" fill="#1a1a1a"/>
<path d="M299.5 468.4 L297 462.7 L299.5 463.5 L302 462.7 Z" fill="#1a1a1a"/>
<line x1="54.9" y1="341.5" x2="54.9" y2="494.3" stroke="#2a2a2a" stroke-width="1.1"/>
<line x1="54.4" y1="493.8" x2="248.8" y2="493.8" stroke="#2a2a2a" stroke-width="1.2"/>
<line x1="51.3" y1="348.25" x2="54.9" y2="348.25" stroke="#2a2a2a" stroke-width="1"/>
<text x="47.9" y="351.25" font-size="8.5" fill="#333" color="#333" text-anchor="end" textLength="16.7" lengthAdjust="spacingAndGlyphs">1.00</text>
<line x1="51.3" y1="382.91" x2="54.9" y2="382.91" stroke="#2a2a2a" stroke-width="1"/>
<text x="47.9" y="385.91" font-size="8.5" fill="#333" color="#333" text-anchor="end" textLength="16.7" lengthAdjust="spacingAndGlyphs">0.75</text>
<line x1="51.3" y1="417.57" x2="54.9" y2="417.57" stroke="#2a2a2a" stroke-width="1"/>
<text x="47.9" y="420.57" font-size="8.5" fill="#333" color="#333" text-anchor="end" textLength="16.7" lengthAdjust="spacingAndGlyphs">0.50</text>
<line x1="51.3" y1="452.24" x2="54.9" y2="452.24" stroke="#2a2a2a" stroke-width="1"/>
<text x="47.9" y="455.24" font-size="8.5" fill="#333" color="#333" text-anchor="end" textLength="16.7" lengthAdjust="spacingAndGlyphs">0.25</text>
<line x1="51.3" y1="486.9" x2="54.9" y2="486.9" stroke="#2a2a2a" stroke-width="1"/>
<text x="47.9" y="489.9" font-size="8.5" fill="#333" color="#333" text-anchor="end" textLength="16.7" lengthAdjust="spacingAndGlyphs">0.00</text>
<line x1="63.5" y1="493.8" x2="63.5" y2="497.2" stroke="#2a2a2a" stroke-width="1"/>
<text x="63.5" y="507.7" font-size="8.6" fill="#333" color="#333" text-anchor="middle" textLength="4.45" lengthAdjust="spacingAndGlyphs">0</text>
<line x1="98.71" y1="493.8" x2="98.71" y2="497.2" stroke="#2a2a2a" stroke-width="1"/>
<text x="98.71" y="507.7" font-size="8.6" fill="#333" color="#333" text-anchor="middle" textLength="8.9" lengthAdjust="spacingAndGlyphs">25</text>
<line x1="133.93" y1="493.8" x2="133.93" y2="497.2" stroke="#2a2a2a" stroke-width="1"/>
<text x="133.93" y="507.7" font-size="8.6" fill="#333" color="#333" text-anchor="middle" textLength="8.9" lengthAdjust="spacingAndGlyphs">50</text>
<line x1="169.14" y1="493.8" x2="169.14" y2="497.2" stroke="#2a2a2a" stroke-width="1"/>
<text x="169.14" y="507.7" font-size="8.6" fill="#333" color="#333" text-anchor="middle" textLength="8.9" lengthAdjust="spacingAndGlyphs">75</text>
<line x1="204.35" y1="493.8" x2="204.35" y2="497.2" stroke="#2a2a2a" stroke-width="1"/>
<text x="204.35" y="507.7" font-size="8.6" fill="#333" color="#333" text-anchor="middle" textLength="13.35" lengthAdjust="spacingAndGlyphs">100</text>
<line x1="239.56" y1="493.8" x2="239.56" y2="497.2" stroke="#2a2a2a" stroke-width="1"/>
<text x="239.56" y="507.7" font-size="8.6" fill="#333" color="#333" text-anchor="middle" textLength="13.35" lengthAdjust="spacingAndGlyphs">125</text>
<text x="138.2" y="521.8" font-size="10" fill="#333" color="#333" textLength="27.7" lengthAdjust="spacingAndGlyphs">Months</text>
<text x="25.8" y="432.4" font-size="10" fill="#333" color="#333" textLength="28.5" lengthAdjust="spacingAndGlyphs" transform="rotate(-90 25.8 432.4)">Survival</text>
<path d="M63.5 348.2H65.5V350.5H67.5V353.5H70V355.25H72.5V357H73V358.65H73.5V360.3H75.5V362H77.2V364H78.5V366H79.6V368H81.5V370H83V371.8H86.8V373.7H88V376H88.8V378.5H90V380.4H91.2V382.4H91.65V384.2H92.1V386H92.5V390H94.8V391H95.2V395.8H105.8V400.8H120.2V408.5H132.3V416H145V430H240.5V430" fill="none" stroke="#f59a9a" stroke-width="1.15" stroke-linejoin="miter"/>
<path d="M63.5 348.2H63.75V350.15H64V352.1H64.25V354.05H64.5V356H65.17V358.33H65.83V360.67H66.5V363H67V365.25H67.5V367.5H68V369.75H68.5V372H69.12V374.25H69.75V376.5H70.38V378.75H71V381H71.5V383H72V385H72.5V387H73.45V388.9H74.4V390.8H75.33V393.17H76.27V395.53H77.2V397.9H78.13V400.27H79.07V402.63H80V405H81V407.09H82V409.17H83V411.26H84V413.34H85V415.43H86V417.51H87V419.6H88.9V421.62H90.8V423.65H92.7V425.68H94.6V427.7H95.17V429.63H95.73V431.57H96.3V433.5H98.75V435.8H101.2V438.1H104.65V439.8H108.1V441.5H116.2V441.5H118.5V447.9H219.3V447.9" fill="none" stroke="#a8cbe2" stroke-width="1.15" stroke-linejoin="miter"/>
<path d="M63.5 348.2H64V355H64.3V357H64.6V359H64.9V361H65.2V363H65.5V365H65.9V367H66.3V369H66.7V371H67.1V373H67.5V375H68.18V377H68.86V379H69.54V381H70.22V383H70.9V385H71.77V387H72.63V389H73.5V391H74.5V393.75H75.5V396.5H76.2V398.8H76.9V401.1H77.6V403.4H78.3V405.7H79V408H80V410.32H81V412.65H82V414.98H83V417.3H84.33V419.6H85.67V421.9H87V424.2H89.35V426.8H91.7V429.4H95.7V431.2H102.3V431.4H105.8V437H108.1V445H111.5V449.6H115V454.2H119.6V454.3H121.9V457.7H127.7V460.8H182.3V470.3H207.7V470.3" fill="none" stroke="#a9d884" stroke-width="1.15" stroke-linejoin="miter"/>
<path d="M63.5 348.2H64.6V349.9H65.7V351.6H66.85V354H68V356.4H69V358.8H70V361.2H70.8V363.13H71.6V365.07H72.4V367H72.9V370.8H75.8V371.8H76.05V373.98H76.3V376.15H76.55V378.32H76.8V380.5H78.2V382.4H79.6V384.3H81.6V387.2H82.05V389.6H82.5V392H83.07V393.9H83.63V395.8H84.2V397.7H85.08V400H85.95V402.3H86.83V404.6H87.7V406.9H91.7V409.2H96.9V411H97.47V413.5H98.03V416H98.6V418.5H100.3V420.2H102V421.9H103V424.7H114.8V424.8H117V427.5H119.4V430H121.9V438.7H125.4V442.2H148.5V447.5H150.6V453.4H179.1V461.7H218.3V486.6" fill="none" stroke="#2f9a2a" stroke-width="1.2" stroke-linejoin="miter"/>
<path d="M63.5 348.2H63.8V355H64.1V357.25H64.4V359.5H64.7V361.75H65V364H65.3V366.3H65.6V368.6H65.9V370.9H66.2V373.2H66.72V375.65H67.25V378.1H67.78V380.55H68.3V383H68.95V385.5H69.6V388H70.25V389.95H70.9V391.9H71.26V393.98H71.62V396.06H71.98V398.14H72.34V400.22H72.7V402.3H73.26V404.6H73.82V406.9H74.38V409.2H74.94V411.5H75.5V413.8H76.38V415.82H77.25V417.85H78.12V419.88H79V421.9H80.33V424.2H81.67V426.5H83V428.8H84.15V431.15H85.3V433.5H86.37V435.4H87.43V437.3H88.5V439.2H89.63V441.53H90.77V443.87H91.9V446.2H93.65V448.5H95.4V450.8H97.1V452.5H98.8V454.2H101.15V455.95H103.5V457.7H105.8V459.7H108.1V461.7H121.9V464.6H128.8V470.4H142.3V474.2H199V486.6" fill="none" stroke="#2372b0" stroke-width="1.3" stroke-linejoin="miter"/>
<path d="M69.4 351V356M71 351V356M74.5 357.8V362.8M80 365.5V370.5M85.8 371.2V376.2M90.2 377.9V382.9M96 388.5V393.5M105.8 393.3V398.3M107.3 398.3V403.3M111.5 398.3V403.3M113 398.3V403.3M118.3 398.3V403.3M125 406V411M132.3 413.5V418.5M140.4 413.5V418.5M143.8 413.5V418.5M148 427.5V432.5M161.5 427.5V432.5M188.5 427.5V432.5M240.5 427.5V432.5" fill="none" stroke="#f59a9a" stroke-width="0.9"/>
<path d="M66.5 350.7V355.3M72 364.7V369.3M74.5 369.5V374.1M77.5 369.5V374.1M88 404.6V409.2M90.5 406.7V411.3M95 408.7V413.3M102 419.2V423.8M105.8 422.5V427.1M111.5 422.5V427.1M121 429.2V433.8M131.7 439.9V444.5M133.3 439.9V444.5M142.3 439.9V444.5M143.5 439.9V444.5M155.8 451.1V455.7M169.2 451.1V455.7M181.7 459.4V464M203.8 459.4V464" fill="none" stroke="#2f9a2a" stroke-width="0.9"/>
<path d="M100.5 429.1V433.7M103 429.1V433.7M109 442.7V447.3M110.6 445.7V450.3M124 456.7V461.3M126 458.5V463.1M140.4 458.5V463.1M142.3 458.5V463.1M145.2 458.5V463.1M176 458.5V463.1M192.3 468V472.6M194.2 468V472.6M207.7 468V472.6" fill="none" stroke="#a9d884" stroke-width="0.9"/>
<path d="M68 367.7V372.3M71 380.7V385.3M75 389.7V394.3M84 411.7V416.3M110.6 439.2V443.8M112.5 439.2V443.8M114.4 439.2V443.8M120.2 445.6V450.2M123 445.6V450.2M135.6 445.6V450.2M138.5 445.6V450.2M147.1 445.6V450.2M148.5 445.6V450.2M173.1 445.6V450.2M190.4 445.6V450.2M219.2 445.6V450.2" fill="none" stroke="#a8cbe2" stroke-width="0.9"/>
<path d="M66 358.7V363.3M67 365.7V370.3M69 375.7V380.3M71.5 392.7V397.3M74 405.7V410.3M77 415.7V420.3M81 422.7V427.3M84 428.7V433.3M87 434.7V439.3M90 440.7V445.3M93 445.7V450.3M97 450.2V454.8M101 453.7V458.3M106 457.7V462.3M110.5 459.4V464M112.5 459.4V464M114.5 459.4V464M117.5 459.4V464M119.5 459.4V464M138.5 468.1V472.7M159.6 471.7V476.3M163.5 471.7V476.3M179.8 471.7V476.3" fill="none" stroke="#2372b0" stroke-width="0.9"/>
<path d="M63.2 348V351M61.7 349.5H64.7M63.5 351.5V354.5M62 353H65M64 355.5V358.5M62.5 357H65.5M64.6 359.5V362.5M63.1 361H66.1M65.2 363.5V366.5M63.7 365H66.7M65.8 367.5V370.5M64.3 369H67.3M66.4 371.5V374.5M64.9 373H67.9M67.2 375.5V378.5M65.7 377H68.7M68 379.5V382.5M66.5 381H69.5M68.8 383.5V386.5M67.3 385H70.3M69.8 387.5V390.5M68.3 389H71.3M70.6 391.5V394.5M69.1 393H72.1M71.4 395.5V398.5M69.9 397H72.9M72.3 399.5V402.5M70.8 401H73.8M73.2 403.5V406.5M71.7 405H74.7M74.2 407.5V410.5M72.7 409H75.7M75.2 411.5V414.5M73.7 413H76.7M76.8 415.5V418.5M75.3 417H78.3M79 420V423M77.5 421.5H80.5M81.5 424V427M80 425.5H83M84 428.5V431.5M82.5 430H85.5M86.5 433.5V436.5M85 435H88M89.5 439.5V442.5M88 441H91M92.5 445.5V448.5M91 447H94" fill="none" stroke="#2372b0" stroke-width="0.9"/>
<path d="M63 350.6V353.4M61.6 352H64.4M65.5 361.6V364.4M64.1 363H66.9" fill="none" stroke="#a9d884" stroke-width="0.8"/>
<path d="M66.5 361.6V364.4M65.1 363H67.9M69.8 376.6V379.4M68.4 378H71.2M71.8 383.6V386.4M70.4 385H73.2" fill="none" stroke="#a8cbe2" stroke-width="0.8"/>
<text x="208.3" y="397.1" font-size="9" fill="#2a2a2a" color="#2a2a2a" textLength="3.2" lengthAdjust="spacingAndGlyphs">*</text>
<text x="213.9" y="395.8" font-size="8.4" fill="#2a2a2a" color="#2a2a2a" style="font-style:italic">p</text>
<text x="221.6" y="395.8" font-size="8.4" fill="#2a2a2a" color="#2a2a2a" textLength="4.4" lengthAdjust="spacingAndGlyphs">&lt;</text>
<text x="226.6" y="395.8" font-size="8.4" fill="#2a2a2a" color="#2a2a2a" textLength="19.3" lengthAdjust="spacingAndGlyphs">0.001</text>
<text x="252" y="431.6" font-size="8.3" fill="#2a2a2a" color="#2a2a2a" textLength="9.1" lengthAdjust="spacingAndGlyphs">P5</text>
<text x="229.2" y="451.8" font-size="8.3" fill="#2a2a2a" color="#2a2a2a" textLength="9.1" lengthAdjust="spacingAndGlyphs">P2</text>
<text x="229.2" y="470.2" font-size="8.3" fill="#2a2a2a" color="#2a2a2a" textLength="9.1" lengthAdjust="spacingAndGlyphs">P3</text>
<text x="229.2" y="487.6" font-size="8.3" fill="#2a2a2a" color="#2a2a2a" textLength="9.1" lengthAdjust="spacingAndGlyphs">P4</text>
<text x="169.2" y="488.2" font-size="8.3" fill="#2a2a2a" color="#2a2a2a" textLength="8.5" lengthAdjust="spacingAndGlyphs">P1</text>
<path d="M244.6 448.2H254.2V437.2M244.6 465.4H257.3V437.2M244.6 484.2H260.4V437.2" fill="none" stroke="#1e1e1e" stroke-width="1.1"/>
<circle cx="250.8" cy="445.3" r="1.05" fill="#2a2a2a"/>
<circle cx="253.1" cy="460.5" r="1.05" fill="#2a2a2a"/>
<circle cx="257.9" cy="479.3" r="1.05" fill="#2a2a2a"/>
<rect x="0.5" y="0.5" width="519" height="531" fill="none" stroke="#000" stroke-width="1.2"/>
</svg></body></html>
